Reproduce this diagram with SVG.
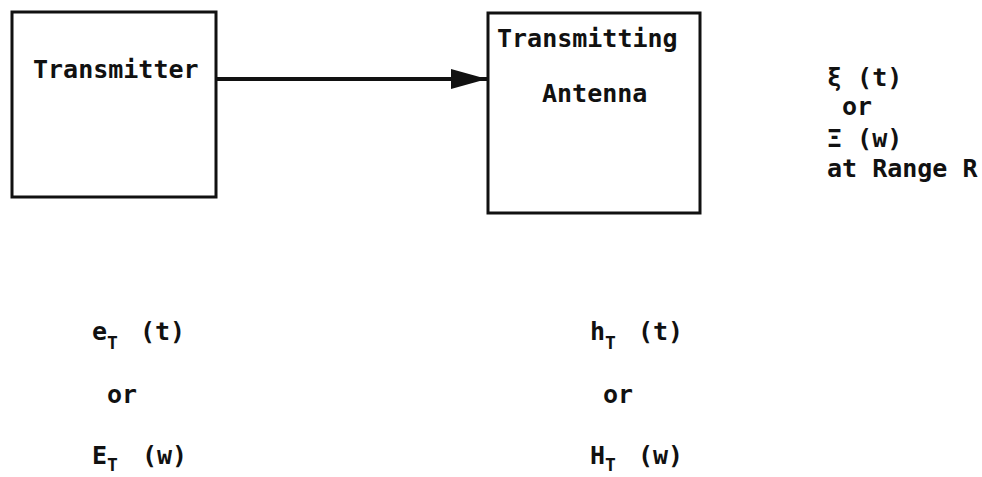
<svg xmlns="http://www.w3.org/2000/svg" width="982" height="477" viewBox="0 0 982 477">
<style>
text{font-family:"DejaVu Sans Mono","Liberation Mono",monospace;font-size:25px;font-weight:bold;fill:#111}
.sub{font-size:18px}
.box{fill:none;stroke:#111;stroke-width:3}
.conn{stroke:#111;stroke-width:4;fill:none}
</style>
<defs>
<marker id="ah" markerWidth="9" markerHeight="5" refX="9" refY="2.5" orient="auto" markerUnits="strokeWidth">
<path d="M0,0 L9,2.5 L0,5 z" fill="#111"/>
</marker>
</defs>
<rect width="982" height="477" fill="#fff"/>
<g id="transmitter">
<rect class="box" x="12" y="12" width="204" height="185"/>
<text x="33" y="78">Transmitter</text>
</g>
<g id="antenna">
<rect class="box" x="488" y="13" width="212" height="200"/>
<text x="497" y="47">Transmitting</text>
<text x="542" y="102">Antenna</text>
</g>
<g id="connectors">
<line class="conn" x1="216" y1="79" x2="487" y2="79" marker-end="url(#ah)"/>
</g>
<g id="field">
<text x="827" y="86">ξ (t)</text>
<text x="842" y="115">or</text>
<text x="827" y="147">Ξ (w)</text>
<text x="827" y="177">at Range R</text>
</g>
<g id="transmitter-signal">
<text x="92" y="340">e<tspan class="sub" dy="9">T</tspan><tspan x="140" dy="-9">(t)</tspan></text>
<text x="107" y="403">or</text>
<text x="92" y="464">E<tspan class="sub" dy="7">T</tspan><tspan x="142" dy="-7">(w)</tspan></text>
</g>
<g id="antenna-response">
<text x="590" y="340">h<tspan class="sub" dy="9">T</tspan><tspan x="638" dy="-9">(t)</tspan></text>
<text x="603" y="403">or</text>
<text x="590" y="464">H<tspan class="sub" dy="7">T</tspan><tspan x="638" dy="-7">(w)</tspan></text>
</g>
</svg>
